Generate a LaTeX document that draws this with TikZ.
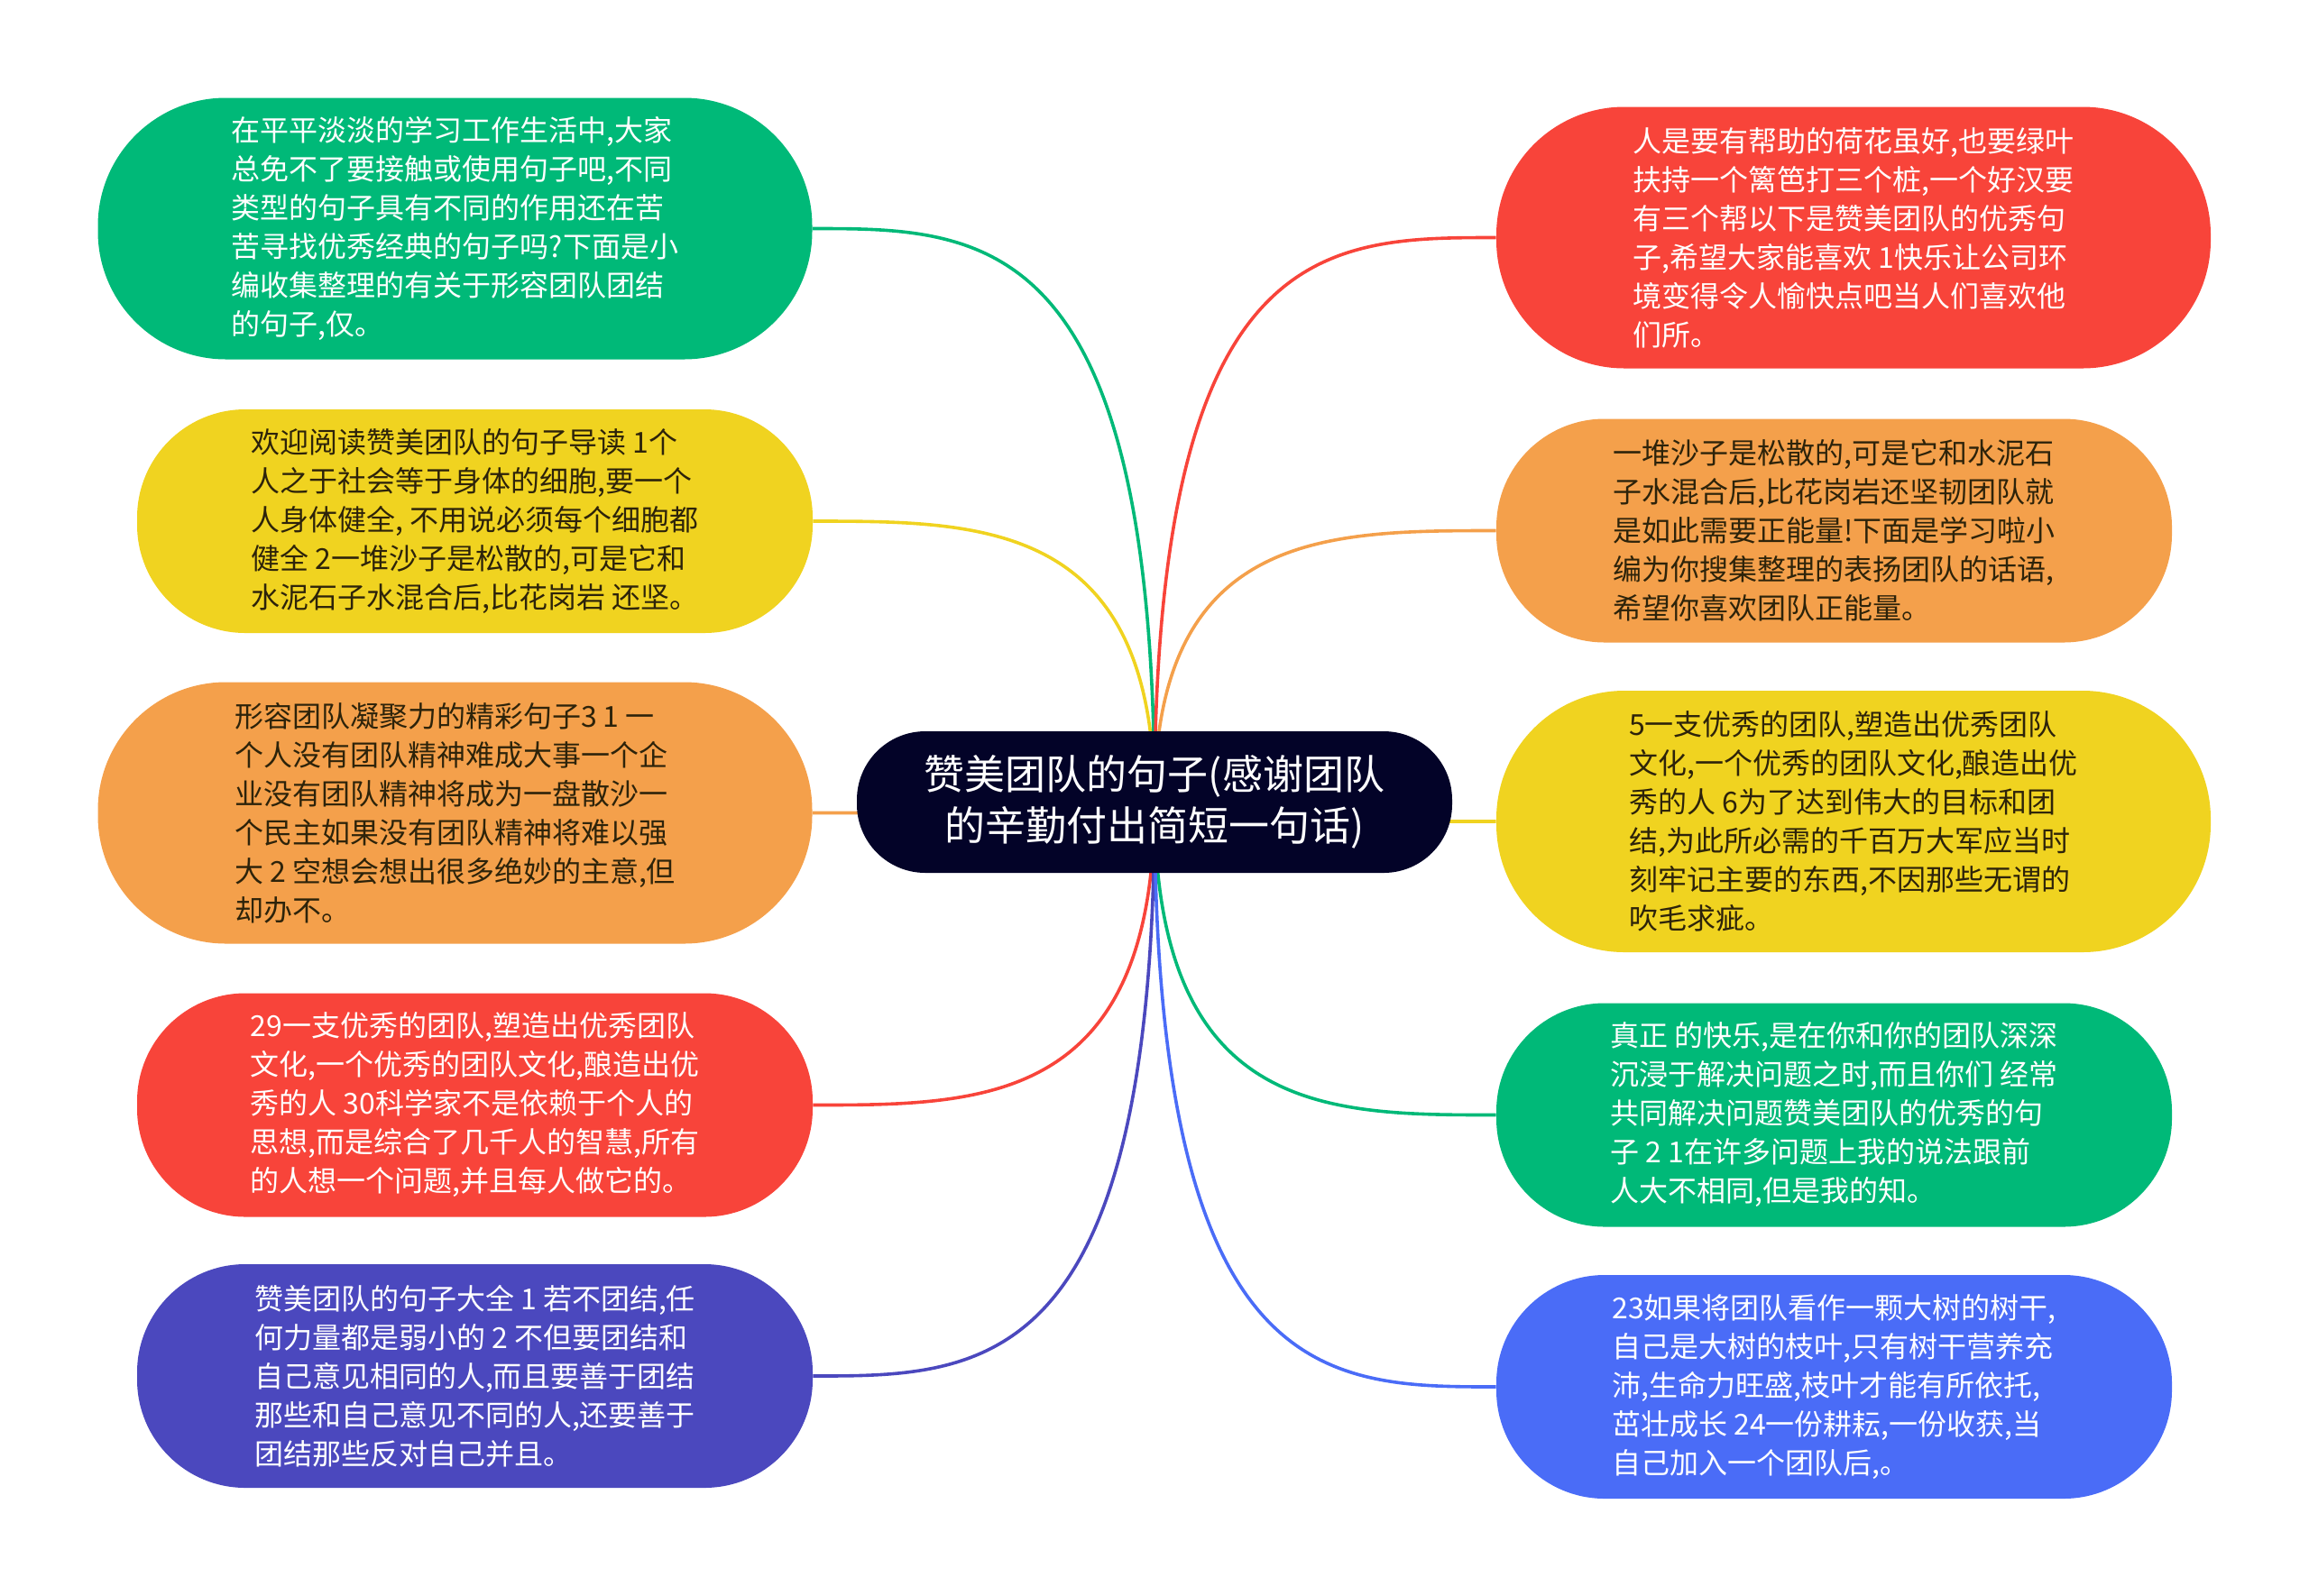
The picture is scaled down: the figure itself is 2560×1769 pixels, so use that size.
\documentclass[tikz,border=0pt]{standalone}
\usepackage{fontspec}
\setmainfont{Noto Sans CJK SC}
\usetikzlibrary{calc}
\definecolor{cgreen}{RGB}{0,185,120}
\definecolor{cyellow}{RGB}{240,211,32}
\definecolor{corange}{RGB}{244,160,75}
\definecolor{cred}{RGB}{248,68,58}
\definecolor{cpurple}{RGB}{75,72,190}
\definecolor{cblue}{RGB}{74,108,247}
\definecolor{cnavy}{RGB}{3,3,40}
\definecolor{cdark}{RGB}{45,35,10}
\pgfdeclarelayer{bg}
\pgfsetlayers{bg,main}
\tikzset{
  leaf/.style={rectangle, inner sep=0pt, align=left,
    font=\fontsize{16}{21.5}\selectfont},
  tall/.style={leaf, minimum width=396pt, minimum height=145pt, rounded corners=71pt},
  short/.style={leaf, minimum width=374.5pt, minimum height=124pt, rounded corners=60pt},
  hub/.style={rectangle, rounded corners=38pt, fill=cnavy, text=white, align=center,
    minimum width=330pt, minimum height=78.5pt, inner sep=0pt,
    font=\fontsize{22.5}{28.5}\selectfont},
  link/.style={line width=1.8pt},
}
\begin{document}
\begin{tikzpicture}[x=0.5pt,y=-0.5pt]
\useasboundingbox (0,0) rectangle (2560,1769);
% nodes
\node[hub] (c) at (1280,889.5) {赞美团队的句子(感谢团队\\的辛勤付出简短一句话)};
\node[tall, fill=cgreen, text=white] (l1) at (504.5,253.5) {在平平淡淡的学习工作生活中,大家\\总免不了要接触或使用句子吧,不同\\类型的句子具有不同的作用还在苦\\苦寻找优秀经典的句子吗?下面是小\\编收集整理的有关于形容团队团结\\的句子,仅。};
\node[short, fill=cyellow, text=cdark] (l2) at (526.5,578) {欢迎阅读赞美团队的句子导读 1个\\人之于社会等于身体的细胞,要一个\\人身体健全, 不用说必须每个细胞都\\健全 2一堆沙子是松散的,可是它和\\水泥石子水混合后,比花岗岩 还坚。};
\node[tall, fill=corange, text=cdark] (l3) at (504.5,901.5) {形容团队凝聚力的精彩句子3 1 一\\个人没有团队精神难成大事一个企\\业没有团队精神将成为一盘散沙一\\个民主如果没有团队精神将难以强\\大 2 空想会想出很多绝妙的主意,但\\却办不。};
\node[short, fill=cred, text=white] (l4) at (526.5,1225.5) {29一支优秀的团队,塑造出优秀团队\\文化,一个优秀的团队文化,酿造出优\\秀的人 30科学家不是依赖于个人的\\思想,而是综合了几千人的智慧,所有\\的人想一个问题,并且每人做它的。};
\node[short, fill=cpurple, text=white] (l5) at (526.5,1526) {赞美团队的句子大全 1 若不团结,任\\何力量都是弱小的 2 不但要团结和\\自己意见相同的人,而且要善于团结\\那些和自己意见不同的人,还要善于\\团结那些反对自己并且。};
\node[tall, fill=cred, text=white] (r1) at (2055,263.5) {人是要有帮助的荷花虽好,也要绿叶\\扶持一个篱笆打三个桩,一个好汉要\\有三个帮以下是赞美团队的优秀句\\子,希望大家能喜欢 1快乐让公司环\\境变得令人愉快点吧当人们喜欢他\\们所。};
\node[short, fill=corange, text=cdark] (r2) at (2033.5,588.5) {一堆沙子是松散的,可是它和水泥石\\子水混合后,比花岗岩还坚韧团队就\\是如此需要正能量!下面是学习啦小\\编为你搜集整理的表扬团队的话语,\\希望你喜欢团队正能量。};
\node[tall, fill=cyellow, text=cdark] (r3) at (2055,911) {5一支优秀的团队,塑造出优秀团队\\文化,一个优秀的团队文化,酿造出优\\秀的人 6为了达到伟大的目标和团\\结,为此所必需的千百万大军应当时\\刻牢记主要的东西,不因那些无谓的\\吹毛求疵。};
\node[short, fill=cgreen, text=white] (r4) at (2033.5,1236.5) {真正 的快乐,是在你和你的团队深深\\沉浸于解决问题之时,而且你们 经常\\共同解决问题赞美团队的优秀的句\\子 2 1在许多问题上我的说法跟前\\人大不相同,但是我的知。};
\node[short, fill=cblue, text=white] (r5) at (2033.5,1538) {23如果将团队看作一颗大树的树干,\\自己是大树的枝叶,只有树干营养充\\沛,生命力旺盛,枝叶才能有所依托,\\茁壮成长 24一份耕耘,一份收获,当\\自己加入一个团队后,。};
% connectors (behind nodes)
\begin{pgfonlayer}{bg}
\foreach \n/\col in {l1/cgreen,l2/cyellow,l3/corange,l4/cred,l5/cpurple}{
  \draw[link, draw=\col] (c.center) .. controls (c.center |- \n.east) and ($(c.center |- \n.east)!0.5!(\n.east)$) .. (\n.east);
}
\foreach \n/\col in {r1/cred,r2/corange,r3/cyellow,r4/cgreen,r5/cblue}{
  \draw[link, draw=\col] (c.center) .. controls (c.center |- \n.west) and ($(c.center |- \n.west)!0.5!(\n.west)$) .. (\n.west);
}
\end{pgfonlayer}
\end{tikzpicture}
\end{document}
